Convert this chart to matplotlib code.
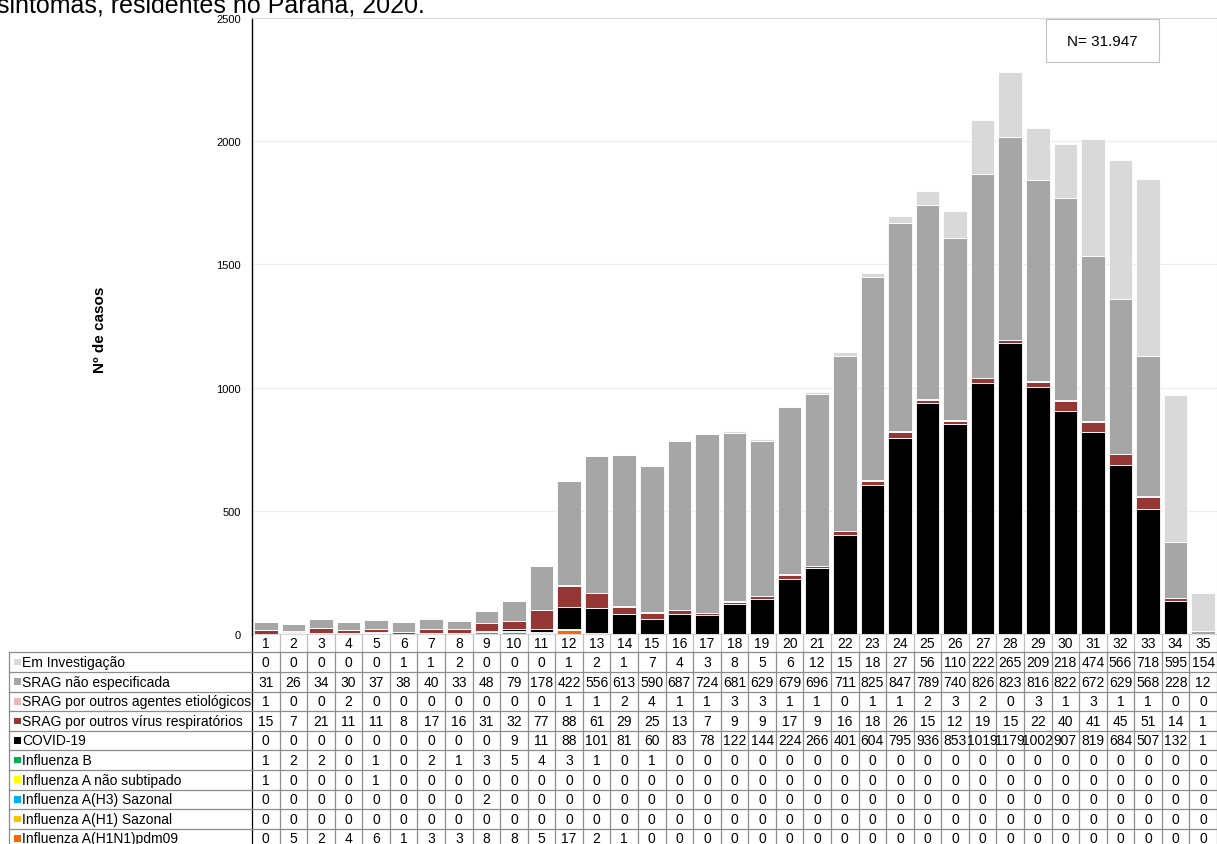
import matplotlib
matplotlib.use("Agg")
import matplotlib.pyplot as plt
import matplotlib.transforms as mtransforms
from matplotlib.patches import Rectangle
import numpy as np

plt.rcParams['font.family'] = ['Liberation Sans', 'DejaVu Sans']

weeks = list(range(1, 36))

# table rows, top to bottom as printed under the chart
em_investigacao = [0, 0, 0, 0, 0, 1, 1, 2, 0, 0, 0, 1, 2, 1, 7, 4, 3, 8, 5, 6, 12, 15, 18, 27, 56,
                   110, 222, 265, 209, 218, 474, 566, 718, 595, 154]
srag_nao_esp = [31, 26, 34, 30, 37, 38, 40, 33, 48, 79, 178, 422, 556, 613, 590, 687, 724, 681, 629, 679,
                696, 711, 825, 847, 789, 740, 826, 823, 816, 822, 672, 629, 568, 228, 12]
outros_agentes = [1, 0, 0, 2, 0, 0, 0, 0, 0, 0, 0, 1, 1, 2, 4, 1, 1, 3, 3, 1, 1, 0, 1, 1, 2,
                  3, 2, 0, 3, 1, 3, 1, 1, 0, 0]
outros_virus = [15, 7, 21, 11, 11, 8, 17, 16, 31, 32, 77, 88, 61, 29, 25, 13, 7, 9, 9, 17, 9, 16, 18, 26, 15,
                12, 19, 15, 22, 40, 41, 45, 51, 14, 1]
covid = [0, 0, 0, 0, 0, 0, 0, 0, 0, 9, 11, 88, 101, 81, 60, 83, 78, 122, 144, 224, 266, 401, 604, 795, 936,
         853, 1019, 1179, 1002, 907, 819, 684, 507, 132, 1]
influenza_b = [1, 2, 2, 0, 1, 0, 2, 1, 3, 5, 4, 3, 1, 0, 1, 0, 0, 0, 0, 0, 0, 0, 0, 0, 0,
               0, 0, 0, 0, 0, 0, 0, 0, 0, 0]
flu_a_nao_subtipado = [1, 0, 0, 0, 1, 0, 0, 0, 0, 0, 0, 0, 0, 0, 0, 0, 0, 0, 0, 0, 0, 0, 0, 0, 0,
                       0, 0, 0, 0, 0, 0, 0, 0, 0, 0]
flu_h3 = [0, 0, 0, 0, 0, 0, 0, 0, 2, 0, 0, 0, 0, 0, 0, 0, 0, 0, 0, 0, 0, 0, 0, 0, 0,
          0, 0, 0, 0, 0, 0, 0, 0, 0, 0]
flu_h1_sazonal = [0, 0, 0, 0, 0, 0, 0, 0, 0, 0, 0, 0, 0, 0, 0, 0, 0, 0, 0, 0, 0, 0, 0, 0, 0,
                  0, 0, 0, 0, 0, 0, 0, 0, 0, 0]
flu_h1n1 = [0, 5, 2, 4, 6, 1, 3, 3, 8, 8, 5, 17, 2, 1, 0, 0, 0, 0, 0, 0, 0, 0, 0, 0, 0,
            0, 0, 0, 0, 0, 0, 0, 0, 0, 0]

labels = ["Em Investigação", "SRAG não especificada", "SRAG por outros agentes etiológicos",
          "SRAG por outros vírus respiratórios", "COVID-19", "Influenza B",
          "Influenza A não subtipado", "Influenza A(H3) Sazonal", "Influenza A(H1) Sazonal",
          "Influenza A(H1N1)pdm09"]
series = [em_investigacao, srag_nao_esp, outros_agentes, outros_virus, covid, influenza_b,
          flu_a_nao_subtipado, flu_h3, flu_h1_sazonal, flu_h1n1]
colors = ["#D9D9D9", "#A6A6A6", "#E6B9B8", "#953735", "#000000", "#00B050",
          "#FFFF00", "#00B0F0", "#FFC000", "#FF6600"]

W, H = 1217, 845
fig = plt.figure(figsize=(W / 100, H / 100), dpi=100)

def fx(px):
    return px / W

def fy(py):
    return 1 - py / H

ax_l, ax_r, ax_t, ax_b = 252, 1217, 19, 635
ax = fig.add_axes([fx(ax_l), fy(ax_b), fx(ax_r - ax_l), (ax_b - ax_t) / H])

x = np.arange(len(weeks))
bottom = np.zeros(len(weeks))
# stack from the bottom row of the table upwards
for vals, col in zip(series[::-1], colors[::-1]):
    v = np.array(vals, dtype=float)
    ax.bar(x, v, bottom=bottom, width=0.86, color=col, edgecolor="white", linewidth=0.6, zorder=3)
    bottom += v

ax.set_xlim(-0.5, len(weeks) - 0.5)
ax.set_ylim(0, 2500)
ax.set_yticks([0, 500, 1000, 1500, 2000, 2500])
ax.tick_params(axis="y", length=0, labelsize=8, pad=8)
ax.set_xticks([])
ax.grid(axis="y", color="#EBEBEB", linewidth=0.8, zorder=0)
for s in ["top", "right", "bottom"]:
    ax.spines[s].set_color("#D9D9D9")
ax.spines["left"].set_color("black")
ax.spines["left"].set_linewidth(1.0)

# N box
fig.add_artist(Rectangle((fx(1046), fy(63)), fx(113), 43 / H, transform=fig.transFigure,
                         facecolor="white", edgecolor="#BFBFBF", linewidth=0.8, zorder=5))
fig.text(fx(1102.5), fy(42), "N= 31.947", ha="center", va="center", fontsize=11, zorder=6)

fig.text(fx(100), fy(330), "Nº de casos", rotation=90, ha="center", va="center",
         fontsize=11, fontweight="bold")
fig.text(fx(-3), fy(12), "sintomas, residentes no Paraná, 2020.", ha="left", va="baseline",
         fontsize=18)

# data table under the axis
blend = mtransforms.blended_transform_factory(ax.transData, fig.transFigure)
line_c = "#8C8C8C"
row_top = 653.3
row_h = 19.6
n_rows = len(series)

# header row with week numbers
for i, wk in enumerate(weeks):
    fig.text(i, fy((ax_b + row_top) / 2), str(wk), transform=blend, ha="center", va="center", fontsize=10)

# vertical separators
for i in range(len(weeks) + 1):
    fig.add_artist(plt.Line2D([i - 0.5, i - 0.5], [fy(ax_b), fy(row_top)], transform=blend,
                              color="#BFBFBF" if i > 0 else "black", linewidth=0.9))
    fig.add_artist(plt.Line2D([i - 0.5, i - 0.5], [fy(row_top), fy(H + 5)], transform=blend,
                              color=line_c if i > 0 else "black", linewidth=0.9))
fig.add_artist(plt.Line2D([fx(9), fx(9)], [fy(row_top), fy(H + 5)], transform=fig.transFigure,
                          color=line_c, linewidth=0.9))

# horizontal separators
for r in range(n_rows + 1):
    yy = fy(row_top + r * row_h)
    fig.add_artist(plt.Line2D([fx(9), 1], [yy, yy], transform=fig.transFigure,
                              color=line_c, linewidth=0.9))

for r, (lab, vals, col) in enumerate(zip(labels, series, colors)):
    yc = fy(row_top + (r + 0.5) * row_h)
    fig.add_artist(Rectangle((fx(14), yc - 3.3 / H), 6.6 / W, 6.6 / H, transform=fig.transFigure,
                             facecolor=col, edgecolor="none"))
    fig.text(fx(22), yc, lab, ha="left", va="center", fontsize=10)
    for i, v in enumerate(vals):
        fig.text(i, yc, str(v), transform=blend, ha="center", va="center", fontsize=10)

fig.savefig("out.png", dpi=100)
